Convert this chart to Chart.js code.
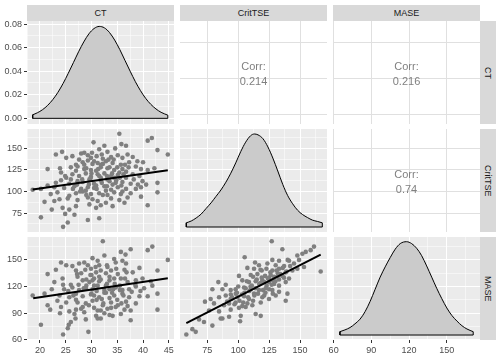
<!DOCTYPE html>
<html><head><meta charset="utf-8">
<script src="https://cdn.jsdelivr.net/npm/chart.js@4.4.1/dist/chart.umd.min.js"></script>
<style>
html,body{margin:0;padding:0;background:#fff;width:502px;height:356px;overflow:hidden;}
#wrap{position:relative;width:502px;height:356px;}
.cell{position:absolute;}
.strip{position:absolute;background:#D9D9D9;color:#1A1A1A;font:9px "Liberation Sans",Arial,sans-serif;display:flex;align-items:center;justify-content:center;}
.strip.v span{writing-mode:vertical-rl;}
</style></head><body><div id="wrap"></div>
<script>
// ---------- data ----------
const varNames = ['CT','CritTSE','MASE'];
const corrLabel = 'Corr:';
const corrValues = ['0.214','0.216','0.74']; // (CT,CritTSE), (CT,MASE), (CritTSE,MASE)

const ctTicks = [20,25,30,35,40,45];
const ctTickLabels = ['20','25','30','35','40','45'];
const ctMinor = [17.5,22.5,27.5,32.5,37.5,42.5];
const ctUpperTicks = [20,30,40];
const critTicks = [75,100,125,150];
const critTickLabels = ['75','100','125','150'];
const critMinor = [62.5,87.5,112.5,137.5,162.5];
const maseTicks = [60,90,120,150];
const maseTickLabels = ['60','90','120','150'];
const maseMinor = [75,105,135,165];
const densTicks = [0,0.02,0.04,0.06,0.08];
const densTickLabels = ['0.00','0.02','0.04','0.06','0.08'];
const densMinor = [0.01,0.03,0.05,0.07];

const ctDensX = [18.6,19.5,20.5,21.5,22.5,23.5,24.5,25.5,26.5,27.5,28.5,29.5,30.5,31.5,32.5,33.5,34.5,35.5,36.5,37.5,38.5,39.5,40.5,41.5,42.5,43.5,44.8];
const ctDensY = [0.0030,0.0047,0.0073,0.0110,0.0159,0.0221,0.0296,0.0382,0.0473,0.0565,0.0648,0.0717,0.0762,0.0780,0.0768,0.0728,0.0664,0.0583,0.0491,0.0400,0.0312,0.0235,0.0170,0.0119,0.0080,0.0051,0.0027];
const critDensX = [58,62,66,70,74,78,82,86,90,94,98,102,106,110,113,116,120,124,128,132,136,140,144,148,152,156,160,164,168];
const critDensY = [0.00097,0.0014,0.0021,0.0030,0.0043,0.0056,0.0071,0.0086,0.0104,0.0125,0.0149,0.0175,0.0197,0.0212,0.0216,0.0214,0.0205,0.0186,0.0160,0.0130,0.0099,0.0073,0.0054,0.0039,0.0029,0.0022,0.0016,0.0013,0.00097];
const maseDensX = [65,69,73,77,81,85,89,93,97,101,105,109,113,118,122,126,130,134,138,142,146,150,154,158,162,166,171];
const maseDensY = [0.00069,0.00106,0.00154,0.00232,0.00328,0.00483,0.00695,0.00946,0.01197,0.01409,0.01602,0.01776,0.01891,0.0193,0.01891,0.01795,0.01641,0.01428,0.01197,0.00965,0.00753,0.0056,0.00405,0.0029,0.00193,0.00125,0.00069];

// scatter: CT vs CritTSE
const ctA = [35.4,41.7,40.9,30.4,32.5,31.5,34.6,35.8,36.7, 23.1,24.3,28.6,29.3,28.0,33.1,37.0,42.8,44.8, 25.1,26.3,27.6,29.9,31.0,32.2,33.8,35.1,36.0,38.0,38.9,40.0, 27.0,28.3,29.3,30.2,31.2,32.8,34.1,35.7,37.3, 21.5,24.1,26.0,27.3,28.6,29.9,30.9,31.8,33.1,34.4,36.0,36.7,38.6,39.6,40.9,42.2, 25.1,26.3,27.6,28.9,29.9,31.2,32.5,33.8,35.1,36.7,38.0,39.3, 23.1,24.1,25.7,27.3,28.3,29.6,30.5,31.8,33.5,34.7,36.0,37.6,39.9,40.6,42.8, 18.6,20.2,21.5,22.8,24.7,26.7,28.0,29.3,30.5,32.5,33.8,35.1,36.7,38.6,39.6, 22.1,23.4,25.7,27.0,28.3,29.9,31.5,33.1,34.4,35.7,37.6,42.8, 20.9,22.8,23.8,25.4,27.3,29.3,30.2,31.2,32.8,35.4,36.4,39.6, 22.3,24.4,25.7,27.0,29.6,30.9,31.8,34.1,40.9, 20.2,24.9,26.7,29.3,31.5,25.4,24.5, 32.2,33.5,35.4,31.8,33.1,34.4,30.9,32.8,34.1,28.9,
  29.0,30.0,31.5,32.0,33.0,34.0,35.0,36.2,30.5,31.8,33.3,34.8,35.8,28.2,27.0,26.0,29.5,31.0,32.2,33.8,36.0,37.2,38.2,39.0,37.0,29.0,27.8,26.4,24.9,23.9,30.1,32.0,34.3,35.5,33.0,31.3,29.8,28.6,27.2,36.5];
const critA = [167,162,159,157,153,149,150,155,153, 143,146,145,142,144,146,143,148,143, 139,141,137,139,141,138,140,142,139,140,135,134, 131,134,136,132,133,135,133,131,134, 126,122,128,129,126,125,124,128,127,125,126,123,129,126,125,127, 116,120,118,121,117,120,121,118,119,116,120,118, 110,113,109,112,111,114,109,113,112,110,111,109,112,108,110, 102,103,107,105,104,106,103,105,104,106,102,105,103,103,105, 97,99,95,98,100,97,98,96,99,97,98,99, 88,89,91,92,90,93,91,89,87,90,87,94, 79,81,79,83,85,81,84,83,84, 70,74,73,67,69,64,59, 132,128,122,116,114,116,107,101,108,101,
  127,121,118,110,106,121,128,120,135,131,137,113,107,114,124,114,108,103,96,92,100,128,114,108,93,96,100,103,118,127,145,143,137,116,118,126,115,131,108,131];
const fitCtCritX = [18.6,44.8];
const fitCtCritY = [102.2,124.7];

// scatter: CT vs MASE
const ctB = [32.2,37.6,41.8,40.9,35.7,36.6,30.2,32.5,34.4,36.0, 24.1,25.1,23.1,26.3,27.6,28.6,29.3,31.2,31.5,33.1,34.7,36.7,39.3,44.8,42.8, 21.5,27.0,28.0,29.9,30.9,32.8,33.8,35.1,36.4,38.0, 22.8,24.4,26.0,27.3,28.3,29.6,30.5,31.8,33.5,34.4,35.7,37.0,38.6,39.9,41.5, 22.3,24.7,26.3,27.6,28.9,30.2,31.2,32.5,33.5,34.7,36.0,37.3,38.6,40.2,41.8,42.8, 18.6,20.9,23.8,25.7,27.0,28.3,29.9,31.5,32.8,34.4,36.0,37.3,39.3,40.9, 21.5,23.4,25.1,27.3,28.9,30.2,32.2,33.8,35.1,36.7,38.6, 22.0,24.1,25.7,27.0,28.3,30.5,31.8,33.1,34.7,36.4,37.6,42.8, 23.9,26.7,28.6,30.9,32.5,34.1,35.7,37.6, 26.9,26.0,28.9,31.2,31.8, 20.2,25.6,25.4,29.4,24.5, 30.0,31.5,33.0,34.0,32.0,29.0,33.5,31.0,35.5,30.5,
  29.0,30.5,31.5,32.5,33.5,34.5,35.5,36.5,28.5,27.5,26.5,30.0,31.0,32.3,33.8,35.0,36.2,37.8,38.5,29.5,28.0,27.0,25.5,24.5,31.8,33.0,34.8,30.8,29.8,32.8,34.2,35.8,37.0,31.2,33.5,30.2,28.8,27.2,36.8,39.5];
const maseB = [171,162,165,161,159,156,152,155,151,149, 147,144,139,143,146,147,144,149,144,142,147,146,141,150,138, 134,138,135,140,136,135,138,134,139,136, 125,129,122,131,127,125,129,128,127,129,129,125,127,129,126, 117,117,119,116,118,117,121,116,117,119,116,117,120,118,121,112, 110,112,110,108,112,109,111,108,113,110,112,108,109,109, 99,104,102,102,101,104,99,102,99,103,101, 94,97,92,94,97,96,93,95,97,94,93,94, 90,89,91,87,90,87,89,82, 84,80,83,84,84, 77,77,73,69,66, 133,131,123,113,106,121,107,115,121,110,
  128,121,126,113,131,123,116,129,118,122,110,112,105,101,96,105,110,114,122,99,95,105,115,122,138,144,140,142,133,121,117,101,98,93,88,127,139,134,136,115];
const fitCtMaseX = [18.7,44.8];
const fitCtMaseY = [106.9,129.4];

// scatter: CritTSE vs MASE
const critC = [127.1,161.3,158.6,154.6,151.9,135.7,147.8, 105.2,133.0,127.6,141.1,149.2,145.1, 113.6,116.8,123.6,130.3,137.1,153.2,147.8, 107.4,112.8,119.0,122.8,127.6,133.0,138.4,143.8, 100.6,110.1,115.5,121.7,126.3,131.7,135.7,141.1,166.7, 83.9,89.9,103.3,108.7,114.1,119.5,124.9,129.0,133.0,138.4, 79.1,87.2,93.9,97.9,104.7,110.1,116.8,122.2,127.6,133.0,139.8,130.3, 73.1,77.7,84.5,89.9,93.9,99.3,104.7,108.7,112.8,119.5,124.9,138.4, 80.4,88.5,92.6,97.9,103.3,107.4,111.4,118.2, 76.4,84.5,93.9,100.6,106.0,114.1,118.2,102.0, 68.3,72.3,79.1,85.8,87.2,92.6,101.5, 62.9,65.6,58.0, 110,118,125,105,115,121,128,112,98,132,
  95,99,103,106,109,111,114,117,119,121,124,126,129,131,134,136,139,142,97,101,104,108,113,116,120,123,127,130,133,137,91,94,100,107,112,118,122,125,128,140];
const maseC = [171,165,161,159,157,162,155, 153,149,150,149,150,146, 147,144,146,144,143,142,140, 141,140,138,140,138,140,136,138, 132,133,134,132,133,131,132,129,137, 125,122,127,125,126,127,125,123,121,125, 117,117,116,117,119,117,116,118,116,114,112,110, 103,106,108,110,106,108,109,106,112,108,106,104, 101,99,101,102,98,101,99,102, 93,92,94,96,97,89,87,87, 83,80,76,84,84,86,81, 72,69,66, 120,124,130,113,128,110,127,104,112,135,
  108,113,111,118,115,121,118,123,130,125,129,136,131,138,134,141,137,143,100,104,102,108,110,112,116,121,122,126,128,130,103,111,120,126,131,139,113,117,112,150];
const fitCritMaseX = [58,166.7];
const fitCritMaseY = [78.8,156];

// ---------- layout / style ----------
const FONT = '"Liberation Sans", Arial, Helvetica, sans-serif';
const cols = [{L:27,W:147},{L:180,W:147},{L:333,W:147}];
const rows = [{T:21,H:103},{T:129,H:103},{T:237,H:103}];
const M = 10;
const PANEL_BG = '#EBEBEB', UPPER_GRID = '#E0E0E0', POINT = '#7F7F7F', DENS_FILL = '#CBCBCB';
const wrap = document.getElementById('wrap');

const bgPlugin = {id:'panelBg', beforeDraw(chart, args, opts){
  const a = chart.chartArea, c = chart.ctx;
  c.save(); c.fillStyle = opts.color || '#fff';
  c.fillRect(a.left, a.top, a.right - a.left, a.bottom - a.top); c.restore();
}};
const corrPlugin = {id:'corrText', afterDatasetsDraw(chart, args, opts){
  if (!opts.value) return;
  const a = chart.chartArea, c = chart.ctx;
  const cx = (a.left + a.right) / 2, cy = (a.top + a.bottom) / 2;
  c.save(); c.font = '11px ' + FONT; c.fillStyle = '#808080';
  c.textAlign = 'center'; c.textBaseline = 'middle';
  c.fillText(corrLabel, cx, cy - 5.5); c.fillText(opts.value, cx, cy + 9.5);
  c.restore();
}};

function makeScale(o){
  const horiz = o.pos === 'bottom';
  return {
    type:'linear', position:o.pos, min:o.min, max:o.max, display:true,
    afterBuildTicks: s => {
      const t = o.major.map(v => ({value:v}));
      (o.minor || []).forEach(v => t.push({value:v, minor:true}));
      t.sort((a,b) => a.value - b.value);
      s.ticks = t;
    },
    afterFit: s => {
      if (horiz) s.height = o.labels ? 16 : 0; else s.width = o.labels ? 27 : 0;
      s.paddingLeft = 0; s.paddingRight = 0; s.paddingTop = 0; s.paddingBottom = 0;
    },
    border:{display:false},
    grid:{
      color: o.gridColor,
      lineWidth: c => (c.tick && c.tick.minor) ? 0.5 : 1,
      drawTicks: !!o.labels,
      tickLength: 3,
      tickWidth: 1,
      tickColor: c => (c.tick && c.tick.minor) ? 'rgba(0,0,0,0)' : '#333333'
    },
    ticks:{
      display: !!o.labels, autoSkip:false, maxRotation:0, minRotation:0, padding:2,
      color:'#4D4D4D', font:{family:FONT, size:9},
      callback: (v, i, ticks) => {
        if (ticks[i] && ticks[i].minor) return '';
        const k = o.major.indexOf(v);
        return o.labels ? o.labels[k] : '';
      }
    }
  };
}

function colScale(c, labels, upper){
  const g = upper ? UPPER_GRID : '#FFFFFF';
  const defs = [
    {min:17.5, max:46, major:ctTicks, minor:ctMinor, lab:ctTickLabels},
    {min:52.9, max:171.8, major:critTicks, minor:critMinor, lab:critTickLabels},
    {min:59.5, max:176.4, major:maseTicks, minor:maseMinor, lab:maseTickLabels}
  ][c];
  return makeScale({pos:'bottom', min:defs.min, max:defs.max, major:defs.major, minor: upper ? [] : defs.minor, labels: labels ? defs.lab : null, gridColor:g});
}
function rowScale(r, labels, upper){
  const g = upper ? UPPER_GRID : '#FFFFFF';
  if (r === 0 && upper) return makeScale({pos:'left', min:17.5, max:46, major:ctUpperTicks, minor:[], labels:null, gridColor:g});
  const defs = [
    {min:-0.0048, max:0.0826, major:densTicks, minor:densMinor, lab:densTickLabels},
    {min:53, max:172.5, major:critTicks, minor:critMinor, lab:critTickLabels},
    {min:59.8, max:175.8, major:maseTicks, minor:maseMinor, lab:maseTickLabels}
  ][r];
  return makeScale({pos:'left', min:defs.min, max:defs.max, major:defs.major, minor: upper ? [] : defs.minor, labels: labels ? defs.lab : null, gridColor:g});
}

function pts(xs, ys){ return xs.map((x, i) => ({x:x, y:ys[i]})); }
function scatterSets(xs, ys, fx, fy){
  return [
    {type:'line', data:pts(fx, fy), borderColor:'#000', borderWidth:2, pointRadius:0, fill:false, tension:0, order:0},
    {type:'scatter', data:pts(xs, ys), pointRadius:2.3, backgroundColor:POINT, pointBackgroundColor:POINT, borderWidth:0, pointBorderWidth:0, order:2}
  ];
}
function densitySets(xs, ys, yAxisID){
  const n = xs.length - 1;
  const edge = [{x:xs[0], y:ys[0]}, {x:xs[0], y:0}, {x:xs[n], y:0}, {x:xs[n], y:ys[n]}];
  return [
    {type:'line', data:edge, yAxisID:yAxisID, borderColor:'#000', borderWidth:1, pointRadius:0, fill:false, tension:0, order:0},
    {type:'line', data:pts(xs, ys), yAxisID:yAxisID, borderColor:'#000', borderWidth:1, backgroundColor:DENS_FILL, fill:'origin', pointRadius:0, cubicInterpolationMode:'monotone', order:1}
  ];
}

function panel(r, c, datasets, scales, bg, corr){
  const pl = c === 0 ? 27 : M, pb = r === 2 ? 16 : M;
  const left = cols[c].L - pl, top = rows[r].T - M;
  const w = cols[c].W + pl + M, h = rows[r].H + M + pb;
  const div = document.createElement('div');
  div.className = 'cell';
  div.style.cssText = 'left:' + left + 'px;top:' + top + 'px;width:' + w + 'px;height:' + h + 'px;';
  const cv = document.createElement('canvas');
  div.appendChild(cv); wrap.appendChild(div);
  new Chart(cv, {
    type:'scatter',
    data:{datasets:datasets},
    options:{
      responsive:true, maintainAspectRatio:false, animation:false, devicePixelRatio:1, events:[],
      layout:{padding:{left: c === 0 ? 0 : M, right:M, top:M, bottom: r === 2 ? 0 : M}},
      plugins:{legend:{display:false}, tooltip:{enabled:false}, panelBg:{color:bg}, corrText:{value:corr}},
      scales:scales
    },
    plugins:[bgPlugin, corrPlugin]
  });
}

// diagonal
panel(0, 0, densitySets(ctDensX, ctDensY, 'y'), {x:colScale(0, false, false), y:rowScale(0, true, false)}, PANEL_BG, null);
panel(1, 1, densitySets(critDensX, critDensY, 'yd'), {x:colScale(1, false, false), y:rowScale(1, false, false), yd:{type:'linear', display:false, min:-0.00116, max:0.02276}}, PANEL_BG, null);
panel(2, 2, densitySets(maseDensX, maseDensY, 'yd'), {x:colScale(2, true, false), y:rowScale(2, false, false), yd:{type:'linear', display:false, min:-0.00103, max:0.02027}}, PANEL_BG, null);
// lower
panel(1, 0, scatterSets(ctA, critA, fitCtCritX, fitCtCritY), {x:colScale(0, false, false), y:rowScale(1, true, false)}, PANEL_BG, null);
panel(2, 0, scatterSets(ctB, maseB, fitCtMaseX, fitCtMaseY), {x:colScale(0, true, false), y:rowScale(2, true, false)}, PANEL_BG, null);
panel(2, 1, scatterSets(critC, maseC, fitCritMaseX, fitCritMaseY), {x:colScale(1, true, false), y:rowScale(2, false, false)}, PANEL_BG, null);
// upper
panel(0, 1, [], {x:colScale(1, false, true), y:rowScale(0, false, true)}, '#FFFFFF', corrValues[0]);
panel(0, 2, [], {x:colScale(2, false, true), y:rowScale(0, false, true)}, '#FFFFFF', corrValues[1]);
panel(1, 2, [], {x:colScale(2, false, true), y:rowScale(1, false, true)}, '#FFFFFF', corrValues[2]);

// strips
varNames.forEach((name, i) => {
  const s = document.createElement('div');
  s.className = 'strip';
  s.style.cssText = 'left:' + cols[i].L + 'px;top:5px;width:' + cols[i].W + 'px;height:16px;';
  s.textContent = name; wrap.appendChild(s);
  const v = document.createElement('div');
  v.className = 'strip v';
  v.style.cssText = 'left:480px;top:' + rows[i].T + 'px;width:16px;height:' + rows[i].H + 'px;';
  const sp = document.createElement('span'); sp.textContent = name; v.appendChild(sp);
  wrap.appendChild(v);
});
</script></body></html>
